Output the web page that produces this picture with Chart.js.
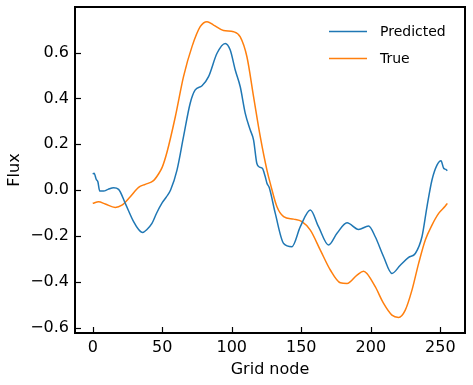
<!DOCTYPE html>
<html>
  <head>
    <meta charset="UTF-8">
    <title>Flux per grid node</title>
    <script src="https://cdn.jsdelivr.net/npm/chart.js@4.4.0/dist/chart.umd.min.js"></script>
    <style>
      html, body { margin: 0; padding: 0; background: #fff; }
      .chartWrapper { width: 473px; height: 385px; }
    </style>
  </head>
  <body>
    <div class="chartWrapper">
      <canvas id="chartFlux"></canvas>
    </div>

    <script>
      // values
      const predNode = [0, 1, 2.5, 3.7, 5, 7.8, 11, 15, 18.6, 23.4, 29.4, 33, 35.8, 39, 42.6, 46, 50, 53, 56,
        60.6, 65.3, 70.1, 73.7, 78.6, 83.3, 89.4, 95.3, 98.9, 102.5, 106.1, 109.7, 113.3, 115.7, 118,
        120, 122, 124, 125.3, 127, 131.3, 137.3, 143.3, 149.3, 156.5, 162.4, 169.6, 175.7, 182.9,
        191.2, 198.4, 203.2, 209.2, 215.2, 221.2, 227.2, 232, 236.8, 240.4, 244, 247.6, 250.5, 252.4,
        254, 255];
      const predFlux = [0.07, 0.073, 0.047, 0.036, -0.004, -0.004, 0.003, 0.01, 0.003, -0.058, -0.138, -0.172,
        -0.185, -0.172, -0.146, -0.1, -0.055, -0.03, 0.0, 0.087, 0.233, 0.379, 0.437, 0.455, 0.495,
        0.597, 0.64, 0.611, 0.524, 0.451, 0.335, 0.262, 0.218, 0.117, 0.1, 0.095, 0.06, 0.03, 0.01,
        -0.102, -0.233, -0.247, -0.16, -0.087, -0.16, -0.24, -0.189, -0.143, -0.172, -0.157, -0.204,
        -0.291, -0.364, -0.328, -0.294, -0.277, -0.204, -0.073, 0.044, 0.109, 0.128, 0.095, 0.09, 0.084];

      const trueNode = [0, 4.2, 9, 16.2, 21, 27, 33, 37.8, 43.7, 47.3, 50, 53.4, 59.4, 65.3, 71.4, 77.3, 82.2,
        86.9, 94.1, 101.3, 106.1, 110.9, 115.7, 120.5, 125.3, 127.7, 132.5, 137.3, 144.5, 150.5, 156.5,
        163.7, 170.9, 178.1, 182.9, 190.1, 194.8, 197.2, 203.2, 209.2, 215.2, 220, 224.8, 229.6, 234.4,
        239.2, 244, 248.8, 253.6, 255];
      const trueFlux = [-0.058, -0.051, -0.061, -0.076, -0.066, -0.029, 0.012, 0.025, 0.041, 0.07, 0.1, 0.165,
        0.32, 0.495, 0.626, 0.713, 0.735, 0.72, 0.696, 0.691, 0.669, 0.582, 0.407, 0.233, 0.087, 0.029,
        -0.073, -0.116, -0.127, -0.138, -0.175, -0.262, -0.349, -0.405, -0.408, -0.371, -0.354, -0.364,
        -0.422, -0.495, -0.546, -0.556, -0.524, -0.437, -0.32, -0.218, -0.153, -0.102, -0.07, -0.058];

      const xTicks = [0, 50, 100, 150, 200, 250];
      const yTicks = [-0.6, -0.4, -0.2, 0.0, 0.2, 0.4, 0.6];
      const seriesNames = ['Predicted', 'True'];
      const seriesColors = ['#1f77b4', '#ff7f0e'];

      const FONT = 'DejaVu Sans';

      function toPoints(xs, ys) {
        return xs.map((x, i) => ({x: x, y: ys[i]}));
      }

      // frame, inward ticks and the legend inside the axes
      const framePlugin = {
        id: 'frame',
        afterDatasetsDraw(chart) {
          const ctx = chart.ctx;
          const a = chart.chartArea;
          const xs = chart.scales.x;
          const ys = chart.scales.y;
          ctx.save();
          ctx.strokeStyle = '#000';
          ctx.lineWidth = 1.2;
          for (const v of xTicks) {
            const px = Math.round(xs.getPixelForValue(v)) + 0.5;
            ctx.beginPath();
            ctx.moveTo(px, a.bottom);
            ctx.lineTo(px, a.bottom - 6);
            ctx.stroke();
          }
          for (const v of yTicks) {
            const py = Math.round(ys.getPixelForValue(v)) + 0.5;
            ctx.beginPath();
            ctx.moveTo(a.left, py);
            ctx.lineTo(a.left + 6, py);
            ctx.stroke();
          }
          ctx.lineWidth = 2;
          ctx.strokeRect(a.left, a.top, a.right - a.left, a.bottom - a.top);

          // legend
          ctx.font = '14px "' + FONT + '"';
          ctx.textBaseline = 'middle';
          ctx.textAlign = 'left';
          chart.data.datasets.forEach((ds, i) => {
            const y = a.top + 24.5 + i * 27;
            const x0 = a.right - 136;
            ctx.strokeStyle = ds.borderColor;
            ctx.lineWidth = 1.5;
            ctx.beginPath();
            ctx.moveTo(x0, y);
            ctx.lineTo(x0 + 38, y);
            ctx.stroke();
            ctx.fillStyle = '#000';
            ctx.fillText(ds.label, x0 + 51, y + 1);
          });
          ctx.restore();
        }
      };

      function fmtTick(v) {
        const s = Math.abs(v).toFixed(1);
        return (v < -1e-9 ? '\u2212' : '') + s;
      }

      document.addEventListener('DOMContentLoaded', function() {
        chartFlux = new Chart(document.getElementById('chartFlux'), {
          type: 'line',
          data: {
            datasets: [
              {
                label: seriesNames[0],
                data: toPoints(predNode, predFlux),
                borderColor: seriesColors[0],
                borderWidth: 1.5,
                pointRadius: 0,
                cubicInterpolationMode: 'monotone',
              },
              {
                label: seriesNames[1],
                data: toPoints(trueNode, trueFlux),
                borderColor: seriesColors[1],
                borderWidth: 1.5,
                pointRadius: 0,
                cubicInterpolationMode: 'monotone',
              },
            ]
          },
          options: {
            responsive: true,
            maintainAspectRatio: false,
            animation: false,
            layout: {
              padding: {top: 7, right: 8, left: 0, bottom: 0}
            },
            scales: {
              x: {
                type: 'linear',
                min: -12.75,
                max: 267.75,
                afterBuildTicks: (scale) => { scale.ticks = xTicks.map(v => ({value: v})); },
                afterFit: (scale) => {
                  scale.height = 52;
                  scale.paddingLeft = 0;
                  scale.paddingRight = 0;
                },
                grid: {display: false, drawTicks: false},
                border: {display: false},
                ticks: {
                  padding: 5,
                  color: '#000',
                  maxRotation: 0,
                  font: {family: FONT, size: 16},
                  callback: (v) => String(v),
                },
                title: {
                  display: true,
                  text: 'Grid node',
                  color: '#000',
                  font: {family: FONT, size: 16},
                  padding: {top: 0, bottom: 6},
                },
              },
              y: {
                type: 'linear',
                min: -0.624,
                max: 0.799,
                afterBuildTicks: (scale) => { scale.ticks = yTicks.map(v => ({value: v})); },
                afterFit: (scale) => {
                  scale.width = 75;
                  scale.paddingTop = 0;
                  scale.paddingBottom = 0;
                },
                grid: {display: false, drawTicks: false},
                border: {display: false},
                ticks: {
                  padding: 6,
                  color: '#000',
                  font: {family: FONT, size: 16},
                  callback: (v) => fmtTick(v),
                },
                title: {
                  display: true,
                  text: 'Flux',
                  color: '#000',
                  font: {family: FONT, size: 16},
                  padding: {top: 5, bottom: 0},
                },
              },
            },
            plugins: {
              legend: {display: false},
              tooltip: {enabled: false},
            },
          },
          plugins: [framePlugin],
        });
      });
    </script>
  </body>
</html>
